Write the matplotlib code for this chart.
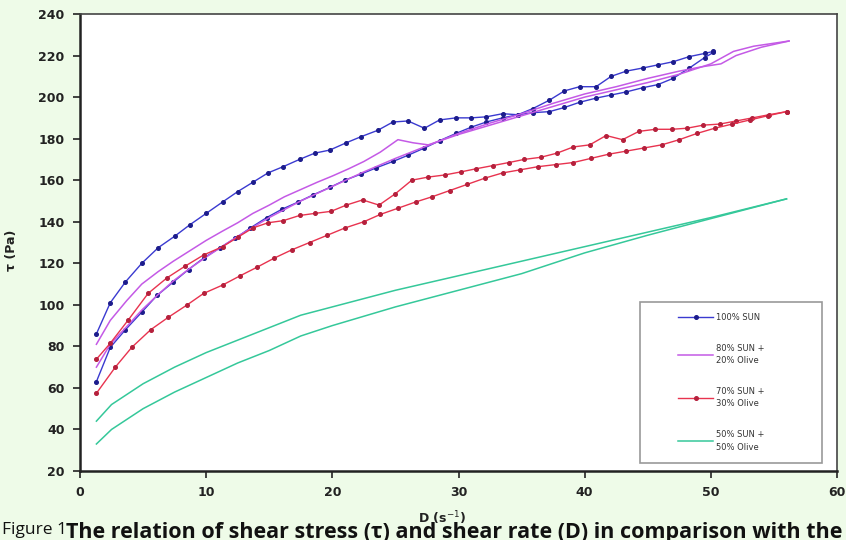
import matplotlib
matplotlib.use("Agg")
import matplotlib.pyplot as plt
from matplotlib.patches import Rectangle

# shear rate D (1/s) and shear stress tau (Pa), up and down curves
blue_up_d = [1.3, 2.4, 3.6, 4.9, 6.2, 7.5, 8.7, 10.0, 11.3, 12.5, 13.7, 14.9, 16.1, 17.4, 18.6,
             19.8, 21.1, 22.3, 23.6, 24.8, 26.0, 27.3, 28.5, 29.8, 31.0, 32.2, 33.5, 34.7, 35.9,
             37.2, 38.4, 39.6, 40.9, 42.1, 43.3, 44.6, 45.8, 47.0, 48.3, 49.5, 50.2]
blue_up_t = [86, 101, 111, 120, 127.5, 133, 138.5, 144, 149.5, 154.5, 159, 163.5, 166.5, 170, 173,
             174.5, 178, 181, 184, 188, 188.5, 185, 189, 190, 190, 190.5, 192, 191.5, 194.5,
             198.5, 203, 205, 205, 210, 212.5, 214, 215.5, 217, 219.5, 221, 222]
blue_dn_d = [1.3, 2.4, 3.6, 4.9, 6.1, 7.4, 8.6, 9.8, 11.1, 12.3, 13.5, 14.8, 16.0, 17.3, 18.5,
             19.8, 21.0, 22.3, 23.5, 24.8, 26.0, 27.3, 28.5, 29.8, 31.0, 32.2, 33.5, 34.7, 35.9,
             37.2, 38.4, 39.6, 40.9, 42.1, 43.3, 44.6, 45.8, 47.0, 48.3, 49.5, 50.2]
blue_dn_t = [63, 79.5, 88, 96.5, 104.5, 111, 117, 122.5, 127.5, 132, 137, 142, 146, 149.5, 153,
             156.5, 160, 163, 166, 169, 172, 175.5, 179, 182.5, 185.5, 188, 190, 191.5, 192.5,
             193, 195, 197.5, 199.5, 201, 202.5, 204.5, 206, 209, 214, 219, 221.5]

violet_up_d = [1.3, 2.4, 3.7, 4.9, 6.2, 7.4, 8.7, 10, 11.3, 12.5, 13.7, 15, 16.2, 17.5, 18.8, 20,
               21.3, 22.5, 23.8, 25.2, 26.4, 27.6, 28.8, 30, 32.5, 35, 37.5, 40, 42.5, 45, 47.5,
               50, 51.8, 53.4, 56.2]
violet_up_t = [81, 92.5, 102, 110, 116, 121, 126, 131, 135.5, 139.5, 144, 148, 152, 155.5, 159, 162,
               165.5, 169, 173.5, 179.5, 178, 177, 179.5, 182, 186.5, 191, 195.5, 200, 203.5, 207,
               211, 216, 222, 224.5, 227]
violet_dn_d = [1.3, 2.4, 3.7, 4.9, 6.2, 7.4, 8.7, 10, 12.5, 15, 17.5, 20, 22.5, 25, 27.5, 30, 32.5,
               35, 37.5, 40, 42.5, 45, 47.5, 49.2, 50.8, 52, 54, 56.2]
violet_dn_t = [70, 81, 89.5, 97.5, 105, 111.5, 117.5, 123, 133, 142, 150, 157, 164, 170.5, 176.5,
               182.5, 187.5, 192, 197, 201.5, 205, 209, 212.5, 214.5, 216, 220, 224, 227]

red_up_d = [1.3, 2.4, 3.8, 5.4, 6.9, 8.3, 9.8, 11.3, 12.5, 13.7, 14.9, 16.1, 17.4, 18.6, 19.9,
            21.1, 22.4, 23.7, 25.0, 26.3, 27.6, 28.9, 30.2, 31.4, 32.7, 34.0, 35.2, 36.5, 37.8,
            39.1, 40.4, 41.7, 43.0, 44.3, 45.6, 46.9, 48.1, 49.4, 50.7, 52.0, 53.3, 54.6, 56.0]
red_up_t = [73.8, 81.5, 92.5, 105.5, 113, 118.5, 124, 128, 132.5, 137, 139.5, 140.5, 143, 144, 145,
            148, 150.5, 148, 153.5, 160, 161.5, 162.5, 164, 165.5, 167, 168.5, 170, 171, 173,
            176, 177, 181.5, 179.5, 183.5, 184.5, 184.5, 185, 186.5, 187, 188.5, 190, 191.5, 193]
red_dn_d = [1.3, 2.8, 4.1, 5.6, 7.0, 8.5, 9.8, 11.3, 12.7, 14.0, 15.4, 16.8, 18.2, 19.6, 21.0,
            22.5, 23.8, 25.2, 26.6, 27.9, 29.3, 30.7, 32.1, 33.5, 34.9, 36.3, 37.7, 39.1, 40.5,
            41.9, 43.3, 44.7, 46.1, 47.5, 48.9, 50.3, 51.7, 53.1, 54.5, 56.0]
red_dn_t = [57.4, 70, 79.5, 88, 94, 100, 105.5, 109.5, 114, 118, 122.5, 126.5, 130, 133.5, 137,
            140, 143.5, 146.5, 149.5, 152, 155, 158, 161, 163.5, 165, 166.5, 167.5, 168.5, 170.5,
            172.5, 174, 175.5, 177, 179.5, 182.5, 185, 187, 189, 191, 193]

green_up_d = [1.3, 2.5, 5, 7.5, 10, 12.5, 15, 17.5, 20, 25, 30, 35, 40, 45, 50, 56]
green_up_t = [44, 52, 62, 70, 77, 83, 89, 95, 99, 107, 114, 121, 128, 135, 142, 151]
green_dn_d = [1.3, 2.5, 5, 7.5, 10, 12.5, 15, 17.5, 20, 25, 30, 35, 40, 45, 50, 56]
green_dn_t = [33, 40, 50, 58, 65, 72, 78, 85, 90, 99, 107, 115, 125, 133.5, 141.5, 151]

labels = ["100% SUN", "80% SUN +\n20% Olive", "70% SUN +\n30% Olive", "50% SUN +\n50% Olive"]

BG = "#eefbe8"
BLUE, BLUE_M = "#3a3ad0", "#1c1c8c"
VIOLET = "#c45ae6"
RED, RED_M = "#e8334f", "#b5203c"
GREEN = "#35c89a"

fig = plt.figure(figsize=(8.46, 5.40), dpi=100, facecolor=BG)
ax = fig.add_axes([80 / 846, 69 / 540, 757 / 846, 457 / 540])
ax.set_facecolor("white")

mk = dict(marker="o", markersize=2.6, lw=1.0)
h1, = ax.plot(blue_up_d, blue_up_t, color=BLUE, mfc=BLUE_M, mec=BLUE_M, **mk)
ax.plot(blue_dn_d, blue_dn_t, color=BLUE, mfc=BLUE_M, mec=BLUE_M, **mk)
h2, = ax.plot(violet_up_d, violet_up_t, color=VIOLET, lw=1.1)
ax.plot(violet_dn_d, violet_dn_t, color=VIOLET, lw=1.1)
h3, = ax.plot(red_up_d, red_up_t, color=RED, mfc=RED_M, mec=RED_M, **mk)
ax.plot(red_dn_d, red_dn_t, color=RED, mfc=RED_M, mec=RED_M, **mk)
h4, = ax.plot(green_up_d, green_up_t, color=GREEN, lw=1.1)
ax.plot(green_dn_d, green_dn_t, color=GREEN, lw=1.1)

ax.set_xlim(0, 60)
ax.set_ylim(20, 240)
ax.set_xticks(range(0, 61, 10))
ax.set_yticks(range(20, 241, 20))
ax.tick_params(direction="out", length=5, width=1.2, labelsize=9, colors="#222222", pad=6)
for lab in ax.get_xticklabels() + ax.get_yticklabels():
    lab.set_fontweight("bold")
for s in ["left", "bottom"]:
    ax.spines[s].set_linewidth(1.8)
    ax.spines[s].set_color("#222222")
for s in ["top", "right"]:
    ax.spines[s].set_linewidth(1.2)
    ax.spines[s].set_color("#444444")

fig.text(12 / 846, 1 - 250 / 540, "τ (Pa)", rotation=90, ha="center", va="center",
         fontsize=9, fontweight="bold", color="#222222")
fig.text(442 / 846, 1 - 518 / 540, "D (s$^{-1}$)", ha="center", va="center",
         fontsize=9, fontweight="bold", color="#222222")

# legend box drawn separately so the entries can sit to the right like the original
ax.add_patch(Rectangle((0.74, 0.0175), 0.24, 0.352, transform=ax.transAxes,
                       facecolor="white", edgecolor="#999999", lw=1.2, zorder=4))
leg = ax.legend([h1, h2, h3, h4], labels, loc="upper left",
                bbox_to_anchor=((678 - 80) / 757, (471 - 313) / 457),
                borderaxespad=0, borderpad=0, frameon=False,
                fontsize=6, handlelength=4.2, handletextpad=0.3, labelspacing=2.6)
leg.set_zorder(5)
for t in leg.get_texts():
    t.set_linespacing(1.5)
    t.set_color("#333333")

fig.text(2 / 846, 1 - 522 / 540, "Figure 1", ha="left", va="top", fontsize=12.5,
         family="Open Sans", color="#111111")
fig.text(66 / 846, 1 - 522 / 540,
         "The relation of shear stress (τ) and shear rate (D) in comparison with the",
         ha="left", va="top", fontsize=15.5, family="Open Sans", fontweight="bold",
         color="#111111")

fig.savefig("out.png", dpi=100, facecolor=BG)
